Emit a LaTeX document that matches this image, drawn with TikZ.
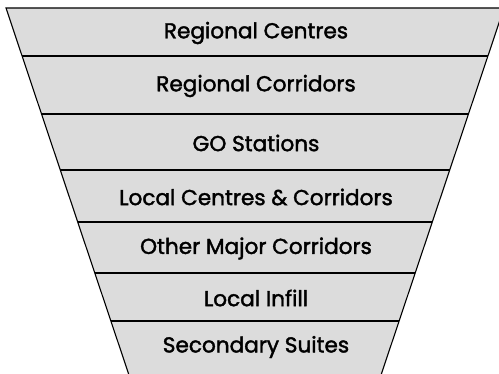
\documentclass[tikz,border=0pt]{standalone}
\usepackage{fontspec}
\setmainfont{Poppins}
\newfontfamily\lblfont[FakeBold=1.8]{Poppins}
\begin{document}
\begin{tikzpicture}[x=1pt,y=1pt,
  lbl/.style={font=\lblfont\fontsize{21.6}{26}\selectfont,text=black,inner sep=0pt}]
\definecolor{bandgray}{HTML}{DCDCDC}
\useasboundingbox (0,0) rectangle (499,373);
\clip (0,0) rectangle (499,373);
\fill[bandgray] (6,365) -- (504,365) -- (376,-17) -- (134,-17) -- cycle;
\foreach \y/\xl/\xr in {317/22.1/487.9, 259/41.5/468.5, 203/60.3/449.7, 151/77.7/432.3, 100/94.8/415.2, 52/110.9/399.1}
  \draw[line width=1.1pt] (\xl,\y) -- (\xr,\y);
\draw[line width=1.1pt] (134,-17) -- (6,365) -- (504,365) -- (376,-17);
\node[lbl] (b1) at (256,340) {Regional Centres};
\node[lbl] (b2) at (256,287) {Regional Corridors};
\node[lbl] (b3) at (256,230) {GO Stations};
\node[lbl] (b4) at (256,176) {Local Centres \& Corridors};
\node[lbl] (b5) at (256,124.5) {Other Major Corridors};
\node[lbl] (b6) at (256,75) {Local Infill};
\node[lbl] (b7) at (256,26) {Secondary Suites};
\end{tikzpicture}
\end{document}
